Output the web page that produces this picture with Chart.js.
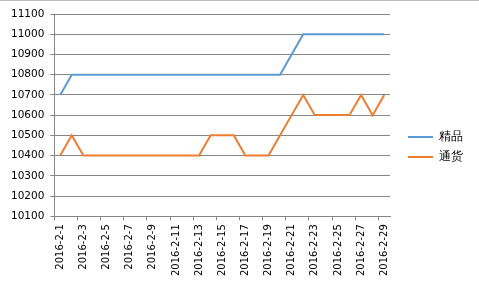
<!DOCTYPE html>
<html>
<head>
<meta charset="utf-8">
<script src="https://cdn.jsdelivr.net/npm/chart.js@4/dist/chart.umd.min.js"></script>
<style>
  html, body { margin: 0; padding: 0; background: #fff; }
  #wrap { position: relative; width: 479px; height: 287px; }
  #topline { position: absolute; left: 0; top: 0; width: 479px; height: 1px; background: #bfbfbf; }
</style>
</head>
<body>
<div id="wrap">
  <canvas id="myChart" width="479" height="287"></canvas>
  <div id="topline"></div>
</div>
<script>
// fechas del mes de febrero
const fechas = [];
for (let d = 1; d <= 29; d++) fechas.push('2016-2-' + d);

// valores
const jingpin = [10700, 10800, 10800, 10800, 10800, 10800, 10800, 10800, 10800, 10800,
                 10800, 10800, 10800, 10800, 10800, 10800, 10800, 10800, 10800, 10800,
                 10900, 11000, 11000, 11000, 11000, 11000, 11000, 11000, 11000];
const tonghuo = [10400, 10500, 10400, 10400, 10400, 10400, 10400, 10400, 10400, 10400,
                 10400, 10400, 10400, 10500, 10500, 10500, 10400, 10400, 10400, 10500,
                 10600, 10700, 10600, 10600, 10600, 10600, 10700, 10600, 10700];
const nombres = ['精品', '通货'];
const colores = ['#5B9BD5', '#ED7D31'];

const fuente = { family: 'DejaVu Sans', size: 10.5 };
const gris = '#868686';

const ctx = document.getElementById('myChart');
const myChart = new Chart(ctx, {
  type: 'line',
  data: {
    labels: fechas,
    datasets: [{
      label: nombres[0],
      data: jingpin,
      borderColor: colores[0],
      backgroundColor: colores[0],
      borderWidth: 2,
      pointRadius: 0,
      tension: 0
    }, {
      label: nombres[1],
      data: tonghuo,
      borderColor: colores[1],
      backgroundColor: colores[1],
      borderWidth: 2,
      pointRadius: 0,
      tension: 0
    }]
  },
  options: {
    responsive: false,
    animation: false,
    layout: { padding: { left: 5, top: 14, right: 6, bottom: 7 } },
    plugins: {
      tooltip: { enabled: false },
      legend: {
        position: 'right',
        labels: {
          font: { family: 'DejaVu Sans', size: 12 },
          color: '#000',
          boxWidth: 25,
          boxHeight: 2,
          padding: 8,
          generateLabels: (chart) => Chart.defaults.plugins.legend.labels.generateLabels(chart)
            .map(l => ({ ...l, lineWidth: 0 }))
        }
      }
    },
    scales: {
      x: {
        offset: true,
        grid: {
          offset: true,
          drawOnChartArea: false,
          drawTicks: true,
          tickLength: 4,
          color: (c) => (c.index % 2 === 0 ? gris : 'rgba(0,0,0,0)')
        },
        border: { display: true, color: gris },
        ticks: {
          autoSkip: false,
          minRotation: 90,
          maxRotation: 90,
          padding: 4,
          color: '#000',
          font: { family: 'DejaVu Sans', size: 10 },
          callback: function (v, i) { return i % 2 === 0 ? fechas[i] : ''; }
        }
      },
      y: {
        min: 10100,
        max: 11100,
        grid: { color: gris, tickLength: 4 },
        border: { display: true, color: gris },
        ticks: {
          stepSize: 100,
          padding: 6,
          color: '#000',
          font: fuente,
          callback: (v) => String(v)
        }
      },
      derecha: {
        type: 'linear',
        position: 'right',
        grid: { display: false },
        border: { display: false },
        ticks: { display: false },
        afterFit: (scale) => { scale.width = 10; }
      }
    }
  }
});
</script>
</body>
</html>
